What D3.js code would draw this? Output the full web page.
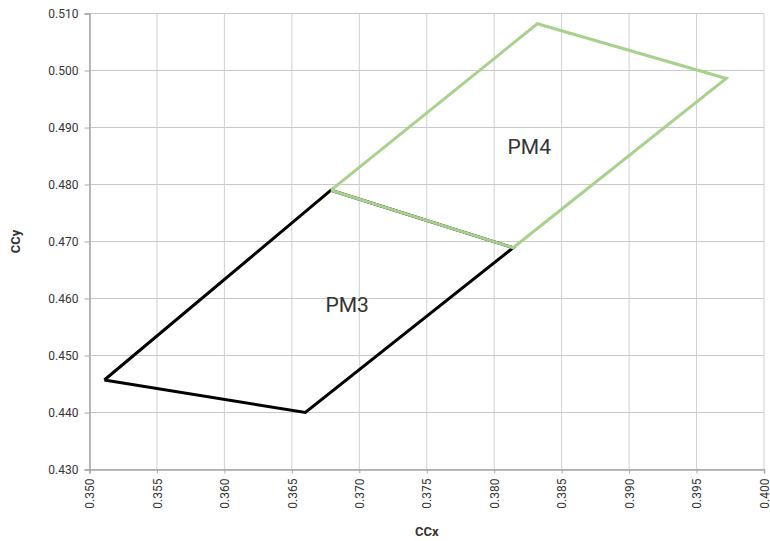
<!DOCTYPE html>
<html><head><meta charset="utf-8">
<script src="https://cdn.jsdelivr.net/npm/d3@7"></script>
<style>body{margin:0;background:#fff;font-family:Roboto,"Liberation Sans",sans-serif}</style>
</head><body>
<svg id="c" width="770" height="541"></svg>
<script>
const xTicks = [0.350,0.355,0.360,0.365,0.370,0.375,0.380,0.385,0.390,0.395,0.400];
const yTicks = [0.430,0.440,0.450,0.460,0.470,0.480,0.490,0.500,0.510];
const pm3x = [0.3511, 0.3679, 0.3814, 0.3660];
const pm3y = [0.4457, 0.4790, 0.4689, 0.4400];
const pm4x = [0.3679, 0.3832, 0.3972, 0.3814];
const pm4y = [0.4790, 0.5082, 0.4986, 0.4689];
const labels = [{name:"PM3", x:0.3691, y:0.4589},{name:"PM4", x:0.3826, y:0.4867}];

const svg = d3.select("#c");
const x = d3.scaleLinear().domain([0.35,0.40]).range([89.5,764]);
const y = d3.scaleLinear().domain([0.43,0.51]).range([469.5,13.5]);

// grid
svg.append("g").selectAll("line").data(xTicks).join("line")
  .attr("x1",d=>x(d)).attr("x2",d=>x(d)).attr("y1",y(0.51)).attr("y2",y(0.43))
  .attr("stroke","#d0d0d0").attr("stroke-width",1);
svg.append("g").selectAll("line").data(yTicks).join("line")
  .attr("y1",d=>y(d)).attr("y2",d=>y(d)).attr("x1",x(0.35)).attr("x2",x(0.40))
  .attr("stroke","#c8c8c8").attr("stroke-width",1);

// axes
const gx = svg.append("g").attr("transform",`translate(0,${y(0.43)})`)
  .call(d3.axisBottom(x).tickValues(xTicks).tickFormat(d3.format(".3f")).tickSizeOuter(0).tickSize(4).tickPadding(5));
gx.selectAll("text").attr("transform","rotate(-90)").attr("text-anchor","end")
  .attr("x",-9).attr("y",0).attr("dy","0.35em");
const gy = svg.append("g").attr("transform",`translate(${x(0.35)},0)`)
  .call(d3.axisLeft(y).tickValues(yTicks).tickFormat(d3.format(".3f")).tickSizeOuter(0).tickSize(5).tickPadding(6));
[gx,gy].forEach(g=>{
  g.select(".domain").attr("stroke","#a6a6a6").attr("stroke-width",1.5);
  g.selectAll(".tick line").attr("stroke","#a6a6a6");
  g.selectAll("text").attr("fill","#333").attr("font-size","12px").attr("font-family","Roboto, sans-serif");
});

const line = d3.line().x(d=>x(d[0])).y(d=>y(d[1]));
const pm3 = pm3x.map((v,i)=>[v,pm3y[i]]);
const pm4 = pm4x.map((v,i)=>[v,pm4y[i]]);
svg.append("path").attr("d",line(pm3.concat([pm3[0]]))).attr("fill","none")
  .attr("stroke","#000").attr("stroke-width",3).attr("stroke-linejoin","miter");
svg.append("path").attr("d",line(pm4.concat([pm4[0]]))).attr("fill","none")
  .attr("stroke","#a9d18e").attr("stroke-width",3).attr("stroke-linejoin","miter");

svg.append("g").selectAll("text").data(labels).join("text")
  .attr("x",d=>x(d.x)).attr("y",d=>y(d.y)).attr("text-anchor","middle").attr("dy","0.35em")
  .attr("font-size","21px").attr("fill","#333").text(d=>d.name);

svg.append("text").attr("x",x(0.375)).attr("y",536).attr("text-anchor","middle")
  .attr("font-size","13px").attr("font-weight","bold").attr("fill","#333").text("CCx");
svg.append("text").attr("transform",`translate(20,${y(0.47)}) rotate(-90)`).attr("text-anchor","middle")
  .attr("font-size","13px").attr("font-weight","bold").attr("fill","#333").text("CCy");
</script>
</body></html>
